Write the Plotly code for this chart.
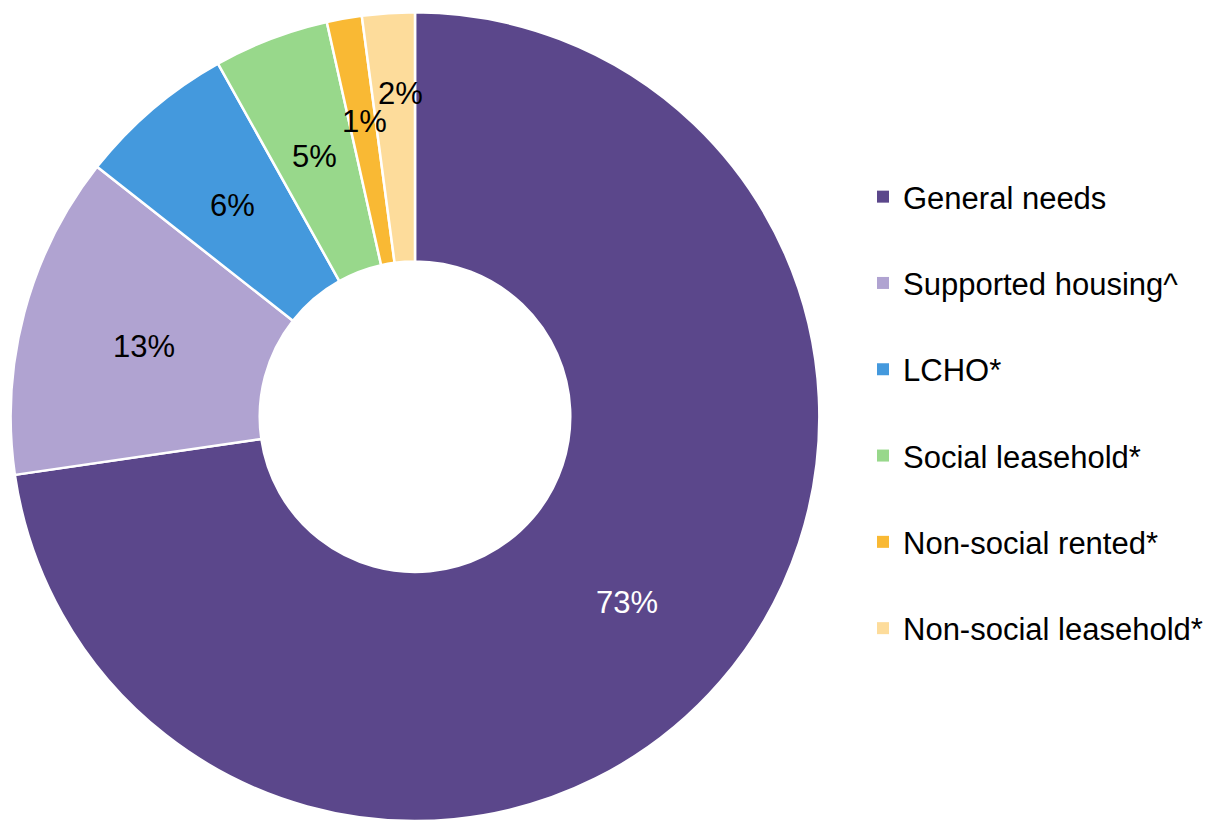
import math
import plotly.graph_objects as go

# Tenure breakdown (percent of stock)
categories = [
    "General needs",
    "Supported housing^",
    "LCHO*",
    "Social leasehold*",
    "Non-social rented*",
    "Non-social leasehold*",
]
shares = [72.7, 12.9, 6.3, 4.6, 1.4, 2.1]
colors = ["#5B478B", "#B0A3D1", "#4499DD", "#98D88B", "#F9B934", "#FDDC9B"]
label_colors = ["white", "black", "black", "black", "black", "black"]
# radial position of each percentage label, as a fraction of the outer radius
label_radius = [0.694, 0.694, 0.694, 0.694, 0.746, 0.806]
# small horizontal nudges (px) for the crowded labels
label_xshift = [0, 0, 0, 0, 2, 7]

W, H = 1211, 821
FONT = "Liberation Sans, Arial, sans-serif"

# pie placement (paper fractions)
dom_x = [8 / W, 822 / W]
dom_y = [0.0, 0.985]
HOLE = 0.384

fig = go.Figure()
fig.add_trace(go.Pie(
    labels=categories,
    values=shares,
    sort=False,
    direction="clockwise",
    rotation=0,
    hole=HOLE,
    marker=dict(colors=colors, line=dict(color="white", width=2.5)),
    textinfo="none",
    hoverinfo="label+percent",
    showlegend=False,
    domain=dict(x=dom_x, y=dom_y),
))

# legend entries
for name, c in zip(categories, colors):
    fig.add_trace(go.Scatter(
        x=[None], y=[None], mode="markers", name=name, legendgroup=name,
        marker=dict(symbol="square", size=12, color=c), hoverinfo="skip",
    ))

# percentage labels placed at each slice's mid-angle
cx = (dom_x[0] + dom_x[1]) / 2 * W
cy = (1 - (dom_y[0] + dom_y[1]) / 2) * H
r_out = min((dom_x[1] - dom_x[0]) * W, (dom_y[1] - dom_y[0]) * H) / 2
total = sum(shares)
cum = 0.0
annotations = []
for v, tc, rf, xs in zip(shares, label_colors, label_radius, label_xshift):
    mid = (cum + v / 2) / total * 2 * math.pi
    cum += v
    px = cx + rf * r_out * math.sin(mid)
    py = cy - rf * r_out * math.cos(mid)
    annotations.append(dict(
        x=px / W, y=1 - py / H, xref="paper", yref="paper",
        text=f"{round(v / total * 100)}%", showarrow=False,
        font=dict(family=FONT, size=31, color=tc),
        xanchor="center", yanchor="middle", xshift=xs, yshift=-2,
    ))

fig.update_layout(
    width=W, height=H,
    margin=dict(l=0, r=0, t=0, b=0),
    paper_bgcolor="white", plot_bgcolor="white",
    xaxis=dict(visible=False), yaxis=dict(visible=False),
    annotations=annotations,
    legend=dict(
        x=863 / W, y=1 - 170 / H, xanchor="left", yanchor="top",
        font=dict(family=FONT, size=31, color="black"),
        tracegroupgap=43, bgcolor="rgba(0,0,0,0)",
    ),
    font=dict(family=FONT),
)

fig.write_html("out.html")
